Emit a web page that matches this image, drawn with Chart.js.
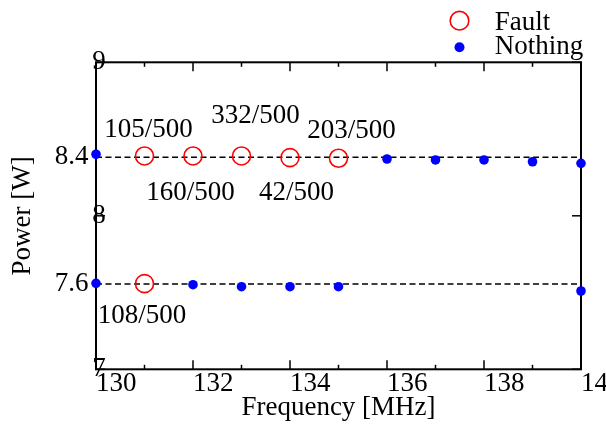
<!DOCTYPE html>
<html><head><meta charset="utf-8">
<script src="https://cdn.jsdelivr.net/npm/chart.js@4"></script>
<style>html,body{margin:0;padding:0;background:#fff;overflow:hidden}#wrap{width:606px;height:430px;position:relative}</style>
</head><body><div id="wrap"><canvas id="c" width="606" height="430"></canvas></div>
<script>
// ---- data ----
const xMin = 130, xMax = 140;
const yMin = 7, yMax = 9;
const yMajorTicks = [7, 8, 9];
const refLineValues = [8.381, 7.556];
const refLineLabels = ['8.4', '7.6'];
const faultX = [131, 132, 133, 134, 135, 131];
const faultY = [8.390, 8.390, 8.390, 8.379, 8.375, 7.558];
const faultCounts = ['105/500', '160/500', '332/500', '42/500', '203/500', '108/500'];
const nothingX = [130, 136, 137, 138, 139, 140, 130, 132, 133, 134, 135, 140];
const nothingY = [8.401, 8.370, 8.364, 8.364, 8.352, 8.342, 7.560, 7.551, 7.538, 7.538, 7.538, 7.510];
const seriesNames = ['Fault', 'Nothing'];

// ---- style ----
const FONT = 'Liberation Serif, Times New Roman, serif';
const FS = 27;
const labelOffsets = [[4, -26], [-2.5, 36.5], [14, -40], [6.5, 35], [13, -27.5], [-2.5, 32]];
const legendStyle = { markerX: 459.5, textX: 494.7, markerY: [20.7, 47.3], textY: [23, 47.2] };

const pts = (xs, ys) => xs.map((x, i) => ({ x: x, y: ys[i] }));

const frame = {
  id: 'frame',
  beforeDatasetsDraw(chart) {
    const { ctx, chartArea: { left, right, top, bottom }, scales: { x, y2 } } = chart;
    ctx.save();
    ctx.strokeStyle = '#000';
    ctx.lineWidth = 1.5;
    const line = (a, b, c, d) => { ctx.beginPath(); ctx.moveTo(a, b); ctx.lineTo(c, d); ctx.stroke(); };
    x.ticks.forEach(t => {
      const px = x.getPixelForValue(t.value);
      const len = (Math.round(t.value) % 2 === 0) ? 9 : 4.5;
      line(px, bottom, px, bottom - len);
      line(px, top, px, top + len);
    });
    y2.ticks.forEach(t => {
      const py = y2.getPixelForValue(t.value);
      line(left, py, left + 9, py);
      line(right, py, right - 9, py);
    });
    ctx.lineWidth = 2;
    ctx.strokeRect(left, top, right - left, bottom - top);
    ctx.restore();
  }
};

const annotations = {
  id: 'annotations',
  afterDatasetsDraw(chart) {
    const { ctx, scales: { x, y } } = chart;
    ctx.save();
    ctx.font = FS + 'px ' + FONT;
    ctx.fillStyle = '#000';
    ctx.textAlign = 'center';
    ctx.textBaseline = 'middle';
    faultCounts.forEach((txt, i) => {
      const px = x.getPixelForValue(faultX[i]) + labelOffsets[i][0];
      const py = y.getPixelForValue(faultY[i]) + labelOffsets[i][1];
      ctx.fillText(txt, px, py);
    });
    ctx.restore();
  }
};

const legendPlugin = {
  id: 'customLegend',
  afterDraw(chart) {
    const { ctx } = chart;
    const sets = chart.data.datasets.filter(d => !d.isRef);
    ctx.save();
    ctx.font = FS + 'px ' + FONT;
    ctx.textAlign = 'left';
    ctx.textBaseline = 'middle';
    sets.forEach((d, i) => {
      const mx = legendStyle.markerX, my = legendStyle.markerY[i];
      ctx.beginPath();
      ctx.arc(mx, my, d.legendRadius, 0, Math.PI * 2);
      if (d.pointBorderWidth > 0) {
        ctx.lineWidth = d.pointBorderWidth;
        ctx.strokeStyle = d.pointBorderColor;
        ctx.stroke();
      } else {
        ctx.fillStyle = d.pointBackgroundColor;
        ctx.fill();
      }
      ctx.fillStyle = '#000';
      ctx.fillText(d.label, legendStyle.textX, legendStyle.textY[i]);
    });
    ctx.restore();
  }
};

const refSets = refLineValues.map(v => ({
  label: 'ref', isRef: true, type: 'line', showLine: true,
  data: [{ x: xMin, y: v }, { x: xMax, y: v }],
  xAxisID: 'x', yAxisID: 'y',
  borderColor: '#000', borderWidth: 1.5, borderDash: [6, 3.5],
  pointRadius: 0, pointHoverRadius: 0, fill: false, clip: false
}));

new Chart(document.getElementById('c'), {
  type: 'scatter',
  data: {
    datasets: [
      {
        label: seriesNames[0], data: pts(faultX, faultY), xAxisID: 'x', yAxisID: 'y',
        pointStyle: 'circle', pointRadius: 9, pointHoverRadius: 9,
        pointBorderColor: '#ff0000', pointBorderWidth: 1.6, pointHoverBorderWidth: 1.6,
        pointBackgroundColor: 'rgba(0,0,0,0)', legendRadius: 9.3, clip: false
      },
      {
        label: seriesNames[1], data: pts(nothingX, nothingY), xAxisID: 'x', yAxisID: 'y',
        pointStyle: 'circle', pointRadius: 4.8, pointHoverRadius: 4.8,
        pointBorderWidth: 0, pointBackgroundColor: '#0000ff', pointBorderColor: '#0000ff',
        legendRadius: 5, clip: false
      },
      ...refSets
    ]
  },
  options: {
    responsive: false,
    animation: false,
    devicePixelRatio: 1,
    layout: { padding: { top: 62.3, right: 25, bottom: 0, left: 0 } },
    plugins: { legend: { display: false }, tooltip: { enabled: false } },
    scales: {
      x: {
        type: 'linear', position: 'bottom', min: xMin, max: xMax,
        grid: { display: false, drawTicks: false }, border: { display: false },
        ticks: {
          stepSize: 1, autoSkip: false, maxRotation: 0, minRotation: 0, align: 'start', padding: -1.4,
          color: '#000', font: { family: FONT, size: FS },
          callback: v => (Math.round(v) % 2 === 0 ? String(Math.round(v)) : '')
        },
        title: { display: true, text: 'Frequency [MHz]', color: '#000', font: { family: FONT, size: FS }, padding: { top: 0, bottom: 5.8 } },
        afterFit(s) { s.height = 60.7; s.paddingLeft = 0; s.paddingRight = 0; }
      },
      y: {
        type: 'linear', position: 'left', weight: 1, min: yMin, max: yMax,
        grid: { display: false, drawTicks: false }, border: { display: false },
        afterBuildTicks(s) { s.ticks = refLineValues.map(v => ({ value: v })); },
        ticks: {
          padding: 7.5, color: '#000', font: { family: FONT, size: FS },
          callback: (v, i) => refLineLabels[i]
        },
        title: { display: true, text: 'Power [W]', color: '#000', font: { family: FONT, size: FS }, padding: { top: 6.8, bottom: 0 } },
        afterFit(s) { s.width = 96; }
      },
      y2: {
        type: 'linear', position: 'left', weight: 0, min: yMin, max: yMax,
        grid: { display: false, drawTicks: false }, border: { display: false },
        afterBuildTicks(s) { s.ticks = yMajorTicks.map(v => ({ value: v })); },
        ticks: {
          mirror: true, padding: -3.7, color: '#000', font: { family: FONT, size: FS },
          callback: v => String(v)
        },
        afterFit(s) { s.width = 0; }
      }
    }
  },
  plugins: [frame, annotations, legendPlugin]
});
</script>
</body></html>
